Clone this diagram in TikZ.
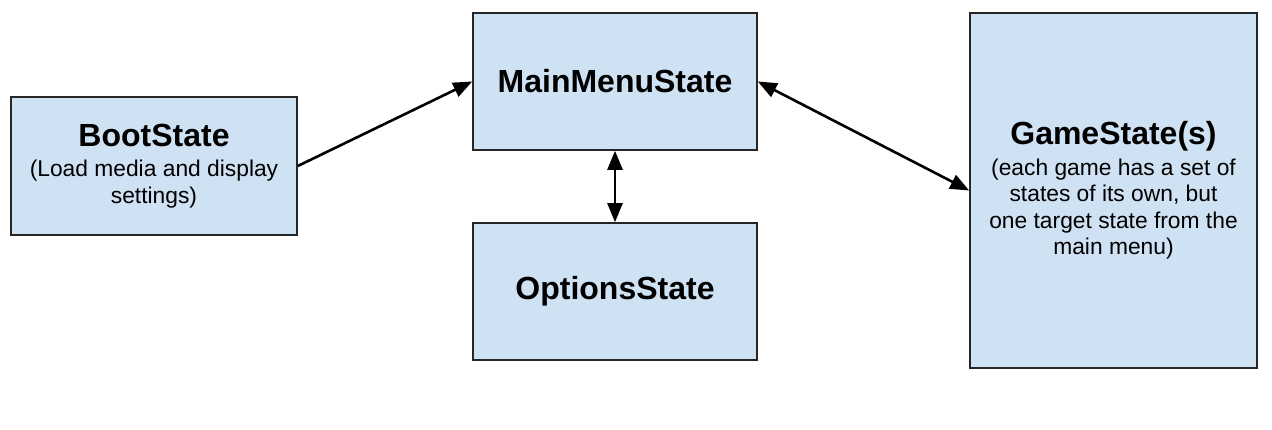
\documentclass[tikz,border=0pt]{standalone}
\usepackage{fontspec}
\setmainfont{Liberation Sans}
\usetikzlibrary{arrows.meta}
\definecolor{boxblue}{HTML}{CFE2F3}
\newcommand{\bigname}{\fontsize{32}{38}\selectfont\bfseries}
\newcommand{\smallnote}{\fontsize{22.8}{26.5}\selectfont}
\tikzset{
  statebox/.style={draw=black!85, fill=boxblue, line width=1.6pt, inner sep=0pt, align=center, font=\smallnote},
  link/.style={line width=2.6pt, -{Triangle[length=19pt,width=15pt]}},
  twolink/.style={line width=2.6pt, {Triangle[length=19pt,width=15pt]}-{Triangle[length=19pt,width=15pt]}}
}
\begin{document}
\begin{tikzpicture}[x=1pt,y=-1pt]
            \useasboundingbox (0,0) rectangle (1272,430);
            \node [statebox, minimum width=286pt, minimum height=138pt] (boot) at (154,166)
              {{\bigname BootState}\\[4pt] (Load media and display\\ settings)};
            \node [statebox, minimum width=284pt, minimum height=137pt] (mainmenu) at (615,81.5)
              {\bigname MainMenuState};
            \node [statebox, minimum width=284pt, minimum height=137pt] (options) at (615,291.5)
              {\bigname OptionsState};
            \node [statebox, minimum width=287pt, minimum height=355pt] (game) at (1113.5,190.5)
              {{\bigname GameState(s)}\\[4pt] (each game has a set of\\ states of its own, but\\ one target state from the\\ main menu)};
            \draw [link] (boot.east) -- (mainmenu.west);
            \draw [twolink] (mainmenu.south) -- (options.north);
            \draw [twolink] (mainmenu.east) -- (game.west);
        \end{tikzpicture}
\end{document}
